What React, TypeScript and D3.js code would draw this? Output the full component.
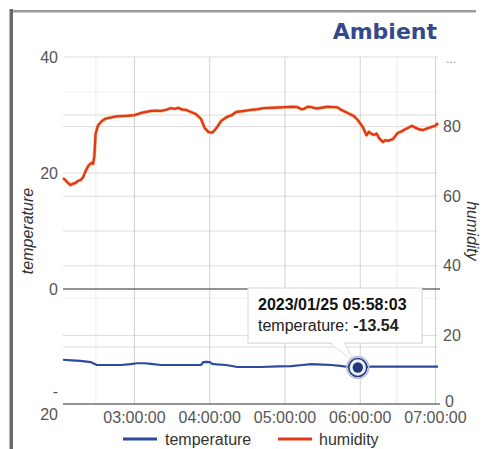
import React from "react";
import * as d3 from "d3";

const humTimes = ["02:03","02:05","02:07","02:09","02:11","02:13","02:15","02:17","02:19","02:21","02:23","02:25","02:26","02:27","02:28","02:29","02:31","02:34","02:37","02:41","02:45","02:49","02:55","03:00","03:05","03:09","03:13","03:17","03:21","03:25","03:29","03:32","03:35","03:38","03:41","03:45","03:49","03:53","03:56","03:59","04:02","04:04","04:06","04:09","04:14","04:18","04:21","04:27","04:33","04:38","04:43","04:50","04:55","05:01","05:06","05:10","05:13","05:15","05:18","05:21","05:25","05:29","05:34","05:39","05:42","05:45","05:50","05:55","05:58","06:02","06:05","06:07","06:09","06:11","06:13","06:15","06:18","06:20","06:22","06:26","06:28","06:30","06:33","06:35","06:38","06:41","06:44","06:46","06:50","06:53","06:57","07:00","07:02"];
const humValues = [65.2,64.6,63.8,63.2,63.6,63.8,64.4,64.6,65.4,67.2,68.6,69.4,69.6,69.3,71.5,78.0,80.4,81.6,82.3,82.6,82.9,83.0,83.1,83.3,83.9,84.2,84.5,84.6,84.5,84.8,85.3,85.1,85.4,84.9,84.8,84.2,83.6,82.2,79.6,78.4,78.3,79.0,79.9,81.6,82.8,83.4,84.2,84.5,84.8,85.0,85.3,85.4,85.5,85.6,85.7,85.6,85.0,85.1,85.7,85.6,85.2,85.4,85.7,85.6,85.5,84.8,83.9,83.0,81.9,79.9,77.5,78.5,77.9,77.6,78.0,76.7,75.6,76.1,75.9,76.4,77.3,78.2,78.6,79.1,79.6,80.2,79.7,79.3,79.0,79.4,79.9,80.3,81.0];

const tempTimes = ["02:03","02:10","02:17","02:25","02:27","02:30","02:40","02:49","02:57","03:02","03:08","03:13","03:21","03:35","03:53","03:55","03:57","04:00","04:02","04:06","04:13","04:22","04:30","04:41","04:55","05:05","05:14","05:21","05:30","05:37","05:44","05:49","05:58","06:03","06:09","06:30","06:50","07:02"];
const tempValues = [-12.2,-12.3,-12.4,-12.6,-12.8,-13.1,-13.1,-13.1,-12.95,-12.8,-12.8,-12.9,-13.1,-13.1,-13.1,-12.6,-12.55,-12.6,-12.9,-13.0,-13.1,-13.45,-13.45,-13.45,-13.35,-13.3,-13.1,-12.95,-13.05,-13.1,-13.25,-13.4,-13.54,-13.45,-13.4,-13.4,-13.4,-13.4];

const leftTicks = [40, 30, 20, 10, 0, -10, -20];
const leftLabels = ["40", "20", "0"];
const leftLabelValues = [40, 20, 0];
const rightTicks = [80, 60, 40, 20];
const rightLabels = ["...", "80", "60", "40", "20", "0"];
const rightLabelValues = [100, 80, 60, 40, 20, 0];
const xTickTimes = ["03:00", "04:00", "05:00", "06:00", "07:00"];
const ghostXTimes = ["02:30", "06:30"];
const seriesNames = ["temperature", "humidity"];
const tooltipTime = "05:58:03";
const tooltipValue = -13.54;

const toDate = (s: string) => {
  const p = s.split(":").map(Number);
  return new Date(2023, 0, 25, p[0], p[1], p[2] || 0);
};

const FONT = "'Liberation Sans', Arial, sans-serif";

export default function App() {
  const W = 483, H = 449;
  const x = d3.scaleTime().domain([toDate("02:03"), toDate("07:02")]).range([63, 438]);
  const yL = d3.scaleLinear().domain([-20, 40]).range([405, 57]);
  const yR = d3.scaleLinear().domain([0, 100]).range([405, 57]);

  const hum = humTimes.map((t, i) => ({ t: toDate(t), v: humValues[i] }));
  const temp = tempTimes.map((t, i) => ({ t: toDate(t), v: tempValues[i] }));

  const humLine = d3.line<{ t: Date; v: number }>().x(d => x(d.t)).y(d => yR(d.v))(hum) || "";
  const tempLine = d3.line<{ t: Date; v: number }>().x(d => x(d.t)).y(d => yL(d.v))(temp) || "";

  const fmt = d3.timeFormat("%H:%M:%S");
  const fmtDate = d3.timeFormat("%Y/%m/%d %H:%M:%S");
  const tipDate = toDate(tooltipTime);
  const px = x(tipDate), py = yL(tooltipValue);

  return (
    <svg width={W} height={H} style={{ position: "absolute", left: 0, top: 0, background: "#fff" }}>
      <rect x={0} y={0} width={W} height={H} fill="#fff" />
      {/* frame */}
      <rect x={10} y={10} width={466} height={2.5} fill="#9a9a9a" />
      <rect x={9.5} y={9} width={3.5} height={440} fill="#6a6a6a" />

      {/* title */}
      <text x={437} y={39} textAnchor="end" fontFamily="'DejaVu Sans', sans-serif" fontWeight="bold" fontSize={22} fill="#34488c">Ambient</text>

      {/* ghost grid */}
      {[92, 298].map((g, i) => (
        <line key={"gh" + i} x1={63} x2={438} y1={g} y2={g} stroke="#efefef" strokeWidth={1} />
      ))}
      {ghostXTimes.map((t, i) => (
        <line key={"gx" + i} x1={x(toDate(t)) - 1} x2={x(toDate(t)) - 1} y1={57} y2={404} stroke="#ececec" strokeWidth={1} />
      ))}

      {/* horizontal grid */}
      {leftTicks.filter(v => v !== 0 && v !== -20).map(v => (
        <line key={"l" + v} x1={63} x2={438} y1={yL(v)} y2={yL(v)} stroke="#dcdcdc" strokeWidth={1} />
      ))}
      {rightTicks.map(v => (
        <line key={"r" + v} x1={63} x2={438} y1={yR(v)} y2={yR(v)} stroke="#dcdcdc" strokeWidth={1} />
      ))}
      {/* vertical grid */}
      {xTickTimes.map(t => (
        <line key={"x" + t} x1={x(toDate(t))} x2={x(toDate(t))} y1={57} y2={404} stroke="#d0d0d0" strokeWidth={1} />
      ))}
      {/* zero line and x axis */}
      <line x1={63} x2={440} y1={yL(0)} y2={yL(0)} stroke="#707070" strokeWidth={1.5} />
      <line x1={63} x2={440} y1={404} y2={404} stroke="#707070" strokeWidth={1.5} />

      {/* left labels */}
      {leftLabels.map((l, i) => (
        <text key={"ll" + i} x={58} y={yL(leftLabelValues[i]) + 5.5} textAnchor="end" fontFamily={FONT} fontSize={16} fill="#555">{l}</text>
      ))}
      <text x={58} y={397} textAnchor="end" fontFamily={FONT} fontSize={16} fill="#555">-</text>
      <text x={58} y={420} textAnchor="end" fontFamily={FONT} fontSize={16} fill="#555">20</text>

      {/* right labels */}
      {rightLabels.map((l, i) => {
        const v = rightLabelValues[i];
        if (l === "...") {
          return <text key="rd" x={446} y={63} fontFamily={FONT} fontSize={12} fill="#999">{l}</text>;
        }
        const yy = v === 0 ? yR(v) + 2 : yR(v) + 5.5;
        return <text key={"rl" + i} x={v === 0 ? 445 : 443} y={yy} fontFamily={FONT} fontSize={16} fill="#555">{l}</text>;
      })}

      {/* x labels */}
      {xTickTimes.map(t => (
        <text key={"xl" + t} x={x(toDate(t))} y={423} textAnchor="middle" fontFamily={FONT} fontSize={16} fill="#555">{fmt(toDate(t))}</text>
      ))}

      {/* axis titles */}
      <text transform="translate(33,231) rotate(-90)" textAnchor="middle" fontFamily={FONT} fontSize={16} fontStyle="italic" fill="#333">temperature</text>
      <text transform="translate(467,231) rotate(90)" textAnchor="middle" fontFamily={FONT} fontSize={16} fontStyle="italic" fill="#333">humidity</text>

      {/* series */}
      <path d={humLine} fill="none" stroke="#f0a030" strokeWidth={3.6} strokeLinejoin="round" opacity={0.45} />
      <path d={humLine} fill="none" stroke="#e2381a" strokeWidth={2.4} strokeLinejoin="round" />
      <path d={tempLine} fill="none" stroke="#2c4b9c" strokeWidth={2.2} strokeLinejoin="round" />

      {/* tooltip pointer */}
      <polygon points={`${px - 28},343 ${px - 13},343 ${px - 4},${py - 6}`} fill="#fff" stroke="#dcdcdc" strokeWidth={1} />
      {/* tooltip box */}
      <rect x={249} y={289} width={174} height={55} fill="#000" opacity={0.06} />
      <rect x={248} y={288} width={174} height={55} fill="#fff" stroke="#d8d8d8" strokeWidth={1} />
      <polygon points={`${px - 27},342 ${px - 14},342 ${px - 6},${py - 8}`} fill="#fff" />
      <text x={258} y={310} fontFamily={FONT} fontSize={16} fontWeight="bold" fill="#111">{fmtDate(tipDate)}</text>
      <text x={258} y={331} fontFamily={FONT} fontSize={16} fill="#222">
        {seriesNames[0] + ": "}
        <tspan fontWeight="bold">{tooltipValue.toFixed(2)}</tspan>
      </text>

      {/* highlight point */}
      <circle cx={px} cy={py} r={11} fill="none" stroke="#b8bfd6" strokeWidth={1.5} />
      <circle cx={px} cy={py} r={9} fill="#eef0f8" stroke="#1f3877" strokeWidth={1.6} />
      <circle cx={px} cy={py} r={5.2} fill="#1f3877" />

      {/* legend */}
      <line x1={123} x2={157} y1={439} y2={439} stroke="#2c4b9c" strokeWidth={3} />
      <text x={165} y={445} fontFamily={FONT} fontSize={16} fill="#333">{seriesNames[0]}</text>
      <line x1={278} x2={312} y1={439} y2={439} stroke="#e2381a" strokeWidth={3} />
      <text x={319} y={445} fontFamily={FONT} fontSize={16} fill="#333">{seriesNames[1]}</text>
    </svg>
  );
}
